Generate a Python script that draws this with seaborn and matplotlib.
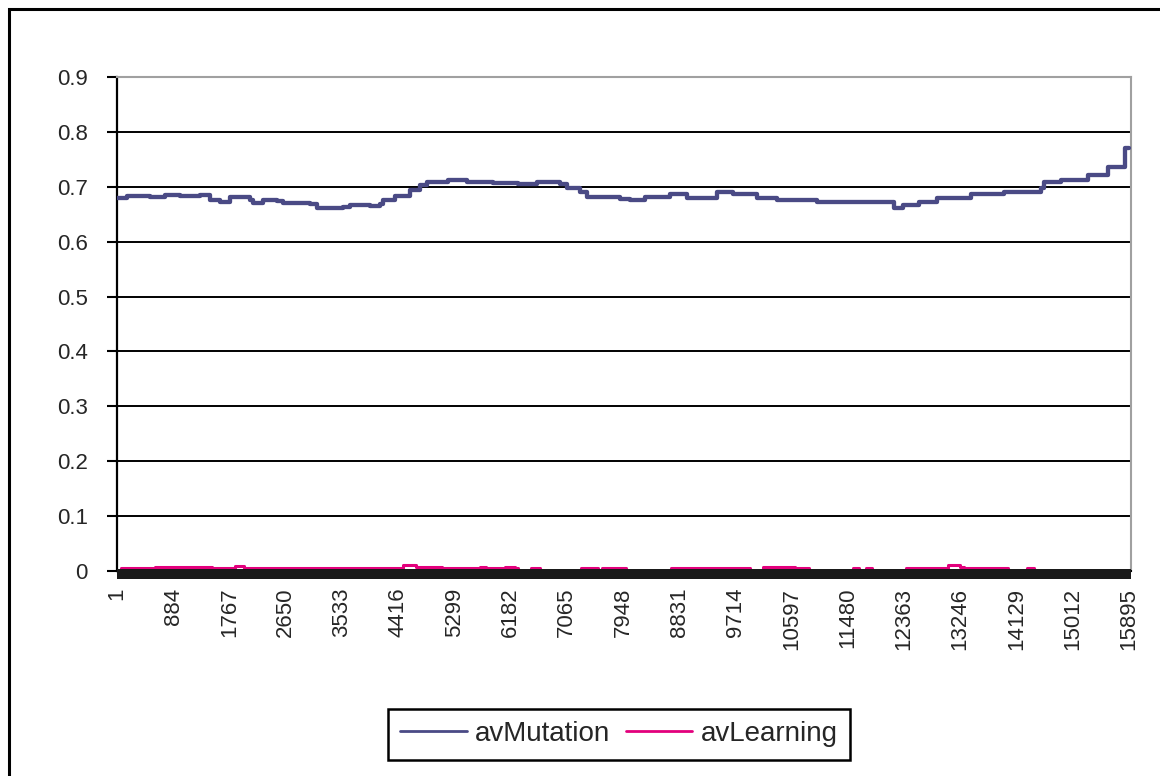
import numpy as np
import pandas as pd
import matplotlib
matplotlib.use("Agg")
import matplotlib.pyplot as plt
from matplotlib.patches import Rectangle
import seaborn as sns

# --- data (step changes: generation -> value) ---
mut_gen = [1, 150, 520, 760, 990, 1305, 1460, 1620, 1775, 2090, 2140, 2295,
           2515, 2610, 3035, 3145, 3555, 3665, 3980, 4135, 4180, 4370, 4605,
           4765, 4875, 5200, 5500, 5910, 6300, 6600, 6965, 7075, 7280, 7390,
           7910, 8065, 8300, 8695, 8960, 9430, 9685, 10060, 10375, 11000,
           11680, 12200, 12355, 12600, 12890, 13410, 13930, 14510, 14560,
           14825, 15250, 15565, 15830, 15895]
mut_val = [0.680, 0.684, 0.682, 0.685, 0.683, 0.685, 0.676, 0.672, 0.681,
           0.675, 0.670, 0.676, 0.674, 0.670, 0.668, 0.661, 0.664, 0.667,
           0.665, 0.668, 0.676, 0.684, 0.694, 0.703, 0.709, 0.712, 0.709,
           0.707, 0.705, 0.708, 0.705, 0.698, 0.690, 0.681, 0.677, 0.676,
           0.681, 0.687, 0.680, 0.691, 0.687, 0.680, 0.675, 0.673, 0.672,
           0.661, 0.667, 0.672, 0.680, 0.687, 0.691, 0.697, 0.709, 0.712,
           0.722, 0.736, 0.771, 0.771]

learn_gen = [1, 60, 600, 1250, 1500, 1850, 2000, 3100, 3300, 4500, 4700,
             5100, 5700, 5800, 6100, 6250, 6300, 6500, 6650, 7200, 7290,
             7550, 7620, 7720, 8000, 8700, 9950, 10150, 10650, 10870, 11500,
             11560, 11650, 11770, 11860, 12400, 12520, 13050, 13250, 13300,
             14000, 14300, 14400, 15895]
learn_val = [0.000, 0.006, 0.007, 0.008, 0.006, 0.009, 0.006, 0.005, 0.006,
             0.011, 0.007, 0.006, 0.008, 0.005, 0.007, 0.006, 0.000, 0.006,
             0.000, 0.000, 0.005, 0.000, 0.005, 0.006, 0.000, 0.006, 0.000,
             0.008, 0.006, 0.000, 0.000, 0.005, 0.000, 0.005, 0.000, 0.006,
             0.005, 0.010, 0.007, 0.006, 0.000, 0.005, 0.000, 0.000]

x_ticks = [1, 884, 1767, 2650, 3533, 4416, 5299, 6182, 7065, 7948, 8831,
           9714, 10597, 11480, 12363, 13246, 14129, 15012, 15895]
y_ticks = [0, 0.1, 0.2, 0.3, 0.4, 0.5, 0.6, 0.7, 0.8, 0.9]
y_labels = ["0", "0.1", "0.2", "0.3", "0.4", "0.5", "0.6", "0.7", "0.8", "0.9"]

df_mut = pd.DataFrame({"gen": mut_gen, "val": mut_val})
df_learn = pd.DataFrame({"gen": learn_gen, "val": learn_val})

sns.set_style("white")
plt.rcParams["font.family"] = ["Liberation Sans", "DejaVu Sans"]

fig = plt.figure(figsize=(11.6, 7.76), dpi=100)
ax = fig.add_axes([0.1009, 0.2642, 0.8741, 0.6366])

# gridlines
for y in y_ticks[1:-1]:
    ax.axhline(y, color="black", lw=1.4, zorder=1)

sns.lineplot(data=df_learn, x="gen", y="val", ax=ax, color="#e2007c",
             lw=2.2, drawstyle="steps-post", label="avLearning", zorder=3)
sns.lineplot(data=df_mut, x="gen", y="val", ax=ax, color="#4a4a85",
             lw=3.1, drawstyle="steps-post", label="avMutation", zorder=4)

ax.set_xlim(1, 15930)
ax.set_ylim(0, 0.9)
ax.set_xticks(x_ticks)
ax.set_xticklabels([str(t) for t in x_ticks], rotation=90)
ax.set_yticks(y_ticks)
ax.set_yticklabels(y_labels)
ax.set_xlabel("")
ax.set_ylabel("")
ax.tick_params(axis="y", direction="out", length=7, width=1.5, color="black",
               left=True, labelsize=16, pad=14)
ax.tick_params(axis="x", length=0, labelsize=16, pad=12)

for side in ["top", "right"]:
    ax.spines[side].set_color("#a0a0a0")
    ax.spines[side].set_linewidth(1.5)
ax.spines["left"].set_color("black")
ax.spines["left"].set_linewidth(1.6)
ax.spines["bottom"].set_color("black")
ax.spines["bottom"].set_linewidth(1.5)

# dense category tick band under the x axis
ax.add_patch(Rectangle((0, -0.016), 1.0, 0.019, transform=ax.transAxes,
                       facecolor="#1a1a1a", edgecolor="none", clip_on=False,
                       zorder=5))

ax.get_legend().remove()
handles, labels = ax.get_legend_handles_labels()
order = [labels.index("avMutation"), labels.index("avLearning")]
leg = fig.legend([handles[i] for i in order], [labels[i] for i in order],
                 loc="center", bbox_to_anchor=(0.5336, 0.054), ncol=2,
                 fontsize=20, frameon=True, fancybox=False, framealpha=1,
                 edgecolor="black", handlelength=2.4, columnspacing=0.55,
                 handletextpad=0.3, borderpad=0.45, borderaxespad=0)
leg.get_frame().set_linewidth(1.8)
for line in leg.get_lines():
    line.set_linewidth(2.0)

# outer chart border
fig.add_artist(Rectangle((0.0078, -0.1), 1.2, 1.0884, transform=fig.transFigure,
                         fill=False, edgecolor="black", lw=2.2))

fig.savefig("out.png", dpi=100)
